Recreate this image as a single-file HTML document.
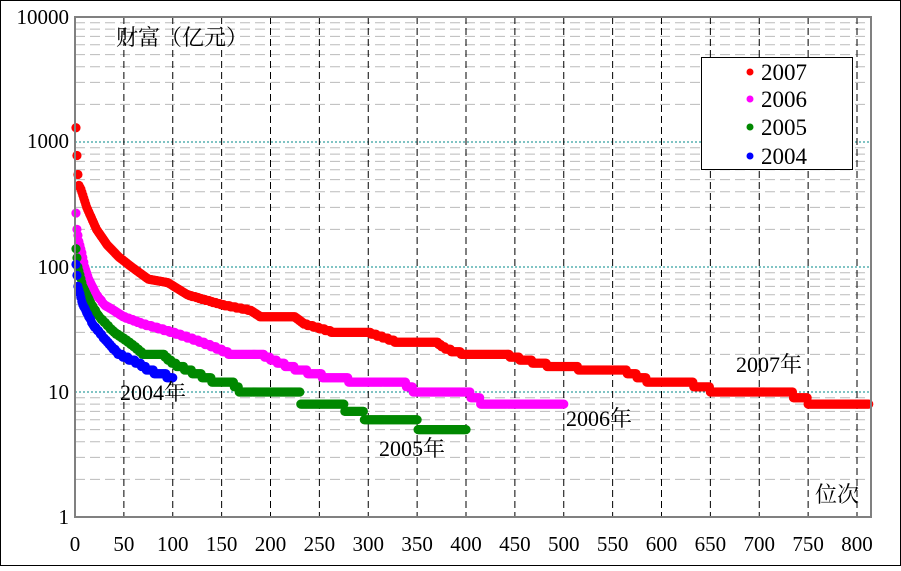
<!DOCTYPE html>
<html><head><meta charset="utf-8"><style>
html,body{margin:0;padding:0;background:#fff}
svg text{font-family:"Liberation Serif","Noto Serif CJK SC",serif;fill:#000}
</style></head><body>
<svg id="s" width="901" height="566" xmlns="http://www.w3.org/2000/svg">
<rect x="0.5" y="0.5" width="900" height="565" fill="#fff" stroke="#000"/>
<g id="grid"></g>
<g id="data"></g>
<rect x="75" y="17" width="796" height="500" fill="none" stroke="#808080" stroke-width="2"/>
<g font-size="21" text-anchor="end">
<text x="69" y="24">10000</text><text x="69" y="148">1000</text><text x="69" y="274">100</text><text x="69" y="399">10</text><text x="69" y="524">1</text>
</g>
<g id="xl" font-size="21" text-anchor="middle"></g>
<text x="116" y="45" font-size="22">财富（亿元）</text>
<text x="815" y="502" font-size="22">位次</text>
<text x="120" y="400" font-size="22">2004年</text>
<text x="379" y="456" font-size="22">2005年</text>
<text x="566" y="426" font-size="22">2006年</text>
<text x="736" y="372" font-size="22">2007年</text>
<rect x="701.5" y="57.5" width="151" height="112" fill="#fff" stroke="#000"/>
<circle cx="750" cy="72" r="3.5" fill="#f00"/><circle cx="750" cy="99" r="3.5" fill="#f0f"/><circle cx="750" cy="127" r="3.5" fill="#080"/><circle cx="750" cy="156" r="3.5" fill="#00f"/>
<g font-size="23"><text x="761" y="80">2007</text><text x="761" y="107">2006</text><text x="761" y="135">2005</text><text x="761" y="164">2004</text></g>
</svg>
<script>
var NS="http://www.w3.org/2000/svg";
function el(p,t,a){var e=document.createElementNS(NS,t);for(var k in a)e.setAttribute(k,a[k]);p.appendChild(e);return e;}
var X=function(r){return 75+r*0.9775;};
var Y=function(v){return 517-Math.log10(v)*125;};
var g=document.getElementById('grid');
for(var d=0;d<4;d++){for(var m=2;m<=9;m++){var y=Y(m*Math.pow(10,d));el(g,'line',{x1:75,x2:871,y1:y,y2:y,stroke:'#bbb','stroke-dasharray':'10,5'});}
if(d>0){var y=Y(Math.pow(10,d));el(g,'line',{x1:75,x2:871,y1:y,y2:y,stroke:'#088','stroke-dasharray':'2,2'});}}
var xl=document.getElementById('xl');
for(var r=0;r<=800;r+=50){var x=X(r);if(r>0)el(g,'line',{x1:x,x2:x,y1:17,y2:517,stroke:'#000','stroke-dasharray':'7,4'});var t=el(xl,'text',{x:x,y:551});t.textContent=r;}
var series=[
['#f00',[[1,1300],[2,780],[3,550],[4,450],[6,420],[12,300],[22,200],[33,150],[45,120],[58,100],[75,80],[95,75],[115,60],[150,50],[180,45],[190,40],[225,40],[235,35],[265,30],[300,30],[330,25],[370,25],[380,22],[400,20],[440,20],[460,18],[490,16],[510,16],[520,15],[560,15],[580,13],[590,12],[625,12],[640,11],[660,10],[730,10],[740,9],[760,8],[812,8]]],
['#f0f',[[1,270],[2,200],[4,160],[7,130],[10,100],[14,80],[22,60],[30,50],[50,40],[70,35],[100,30],[130,25],[160,20],[190,20],[210,17],[230,15],[260,13],[300,12],[335,12],[350,10],[400,10],[410,9],[420,8],[500,8]]],
['#080',[[1,140],[3,100],[8,70],[17,50],[25,40],[40,30],[55,25],[70,20],[90,20],[100,17],[115,15],[135,13],[145,12],[160,12],[170,10],[230,10],[231,8],[275,8],[276,7],[295,7],[296,6],[350,6],[351,5],[400,5]]],
['#00f',[[1,105],[3,70],[8,50],[18,35],[25,30],[33,25],[45,20],[65,17],[75,15],[100,13]]]];
var dg=document.getElementById('data');
series.forEach(function(s){var a=s[1];for(var r=a[0][0];r<=a[a.length-1][0];r++){var i=0;while(i<a.length-1&&a[i+1][0]<r)i++;var v;if(i>=a.length-1)v=a[i][1];else{var p=a[i],q=a[i+1];var f=(r-p[0])/Math.max(1,q[0]-p[0]);v=Math.exp(Math.log(p[1])+f*(Math.log(q[1])-Math.log(p[1])));}if(v<60)v=Math.round(v);el(dg,'circle',{cx:X(r),cy:Y(v),r:4.6,fill:s[0]});}});
</script>
</body></html>
